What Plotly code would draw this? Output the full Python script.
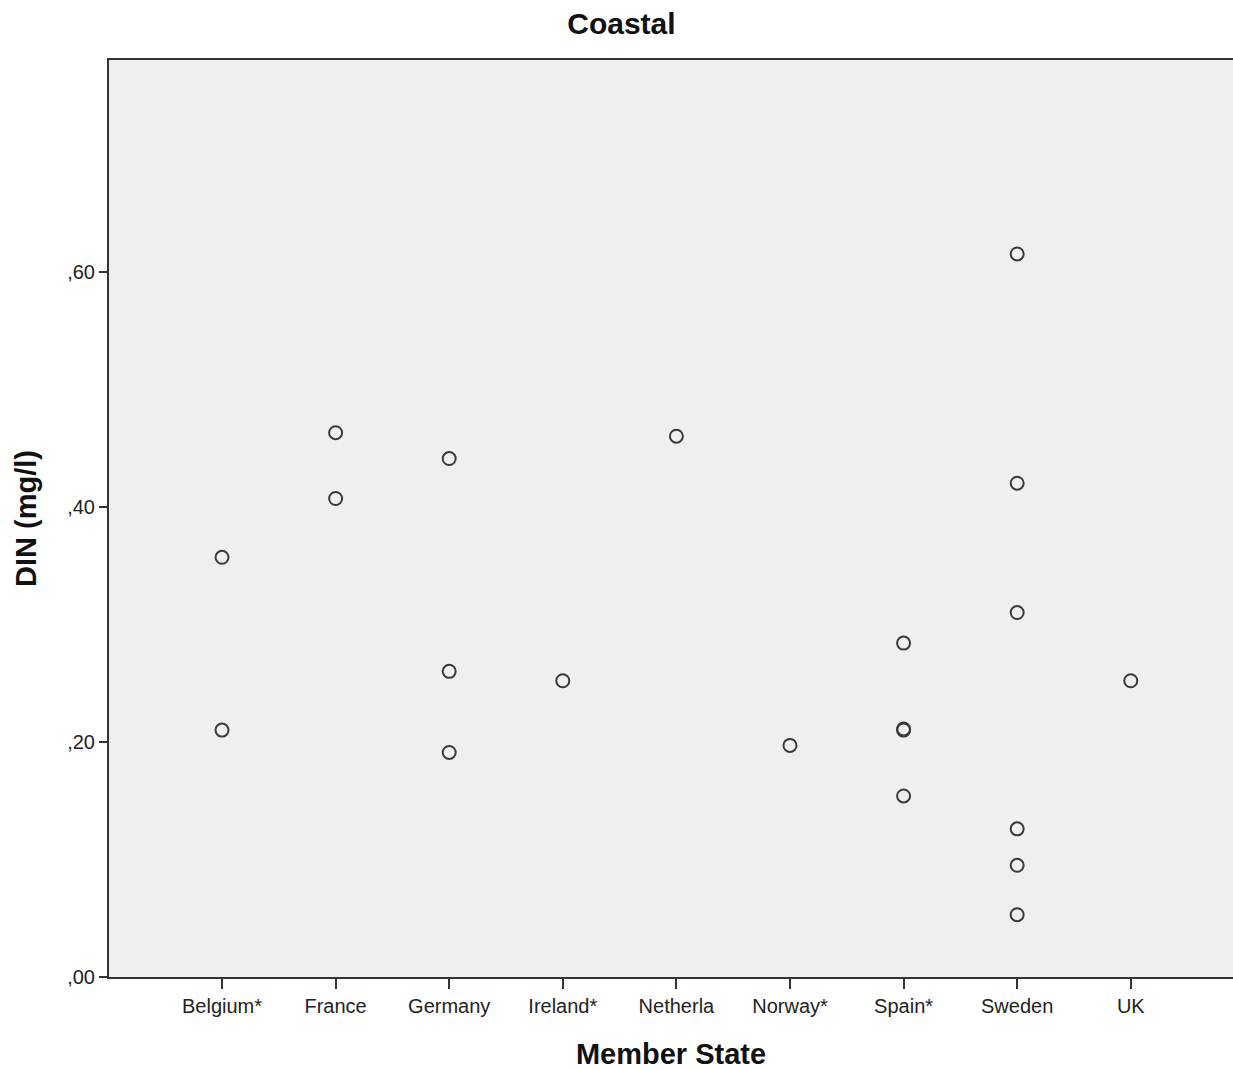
import plotly.graph_objects as go

categories = ["Belgium*", "France", "Germany", "Ireland*", "Netherla",
              "Norway*", "Spain*", "Sweden", "UK"]
point_states = ["Belgium*", "Belgium*",
                "France", "France",
                "Germany", "Germany", "Germany",
                "Ireland*",
                "Netherla",
                "Norway*",
                "Spain*", "Spain*", "Spain*", "Spain*",
                "Sweden", "Sweden", "Sweden", "Sweden", "Sweden", "Sweden",
                "UK"]
din_values = [0.357, 0.210,
              0.463, 0.407,
              0.441, 0.260, 0.191,
              0.252,
              0.460,
              0.197,
              0.284, 0.210, 0.211, 0.154,
              0.615, 0.420, 0.310, 0.126, 0.095, 0.053,
              0.252]
y_tickvals = [0.0, 0.2, 0.4, 0.6]
y_ticktext = [",00", ",20", ",40", ",60"]

fig = go.Figure()
fig.add_trace(go.Scatter(
    x=point_states, y=din_values, mode="markers",
    marker=dict(symbol="circle-open", size=13, color="#3a3a3a",
                line=dict(width=2, color="#3a3a3a")),
    showlegend=False, hoverinfo="x+y"))

font_family = "Liberation Sans, Arial, sans-serif"
fig.update_layout(
    width=1233, height=1070,
    margin=dict(l=109, r=0, t=60, b=93),
    paper_bgcolor="white", plot_bgcolor="#efefef",
    font=dict(family=font_family, size=20, color="#222222"),
    title=dict(text="<b>Coastal</b>", x=0.504, xanchor="center",
               y=0.978, yanchor="middle",
               font=dict(size=30, color="#111111")),
    xaxis=dict(
        type="category", categoryorder="array", categoryarray=categories,
        range=[-0.995, 8.9], showgrid=False, zeroline=False,
        showline=True, linecolor="#333333", linewidth=2, mirror=True,
        ticks="outside", ticklen=10, tickwidth=2, tickcolor="#333333",
        tickfont=dict(size=20, color="#222222"),
        title=dict(text="<b>Member State</b>", standoff=28,
                   font=dict(size=29, color="#111111")),
    ),
    yaxis=dict(
        range=[0, 0.78], tickvals=y_tickvals, ticktext=y_ticktext,
        showgrid=False, zeroline=False,
        showline=True, linecolor="#333333", linewidth=2,
        ticks="outside", ticklen=8, tickwidth=2, tickcolor="#333333",
        tickfont=dict(size=20, color="#222222"),
        title=dict(text="<b>DIN (mg/l)</b>", standoff=22,
                   font=dict(size=29, color="#111111")),
    ),
)

fig.write_html("out.html")
